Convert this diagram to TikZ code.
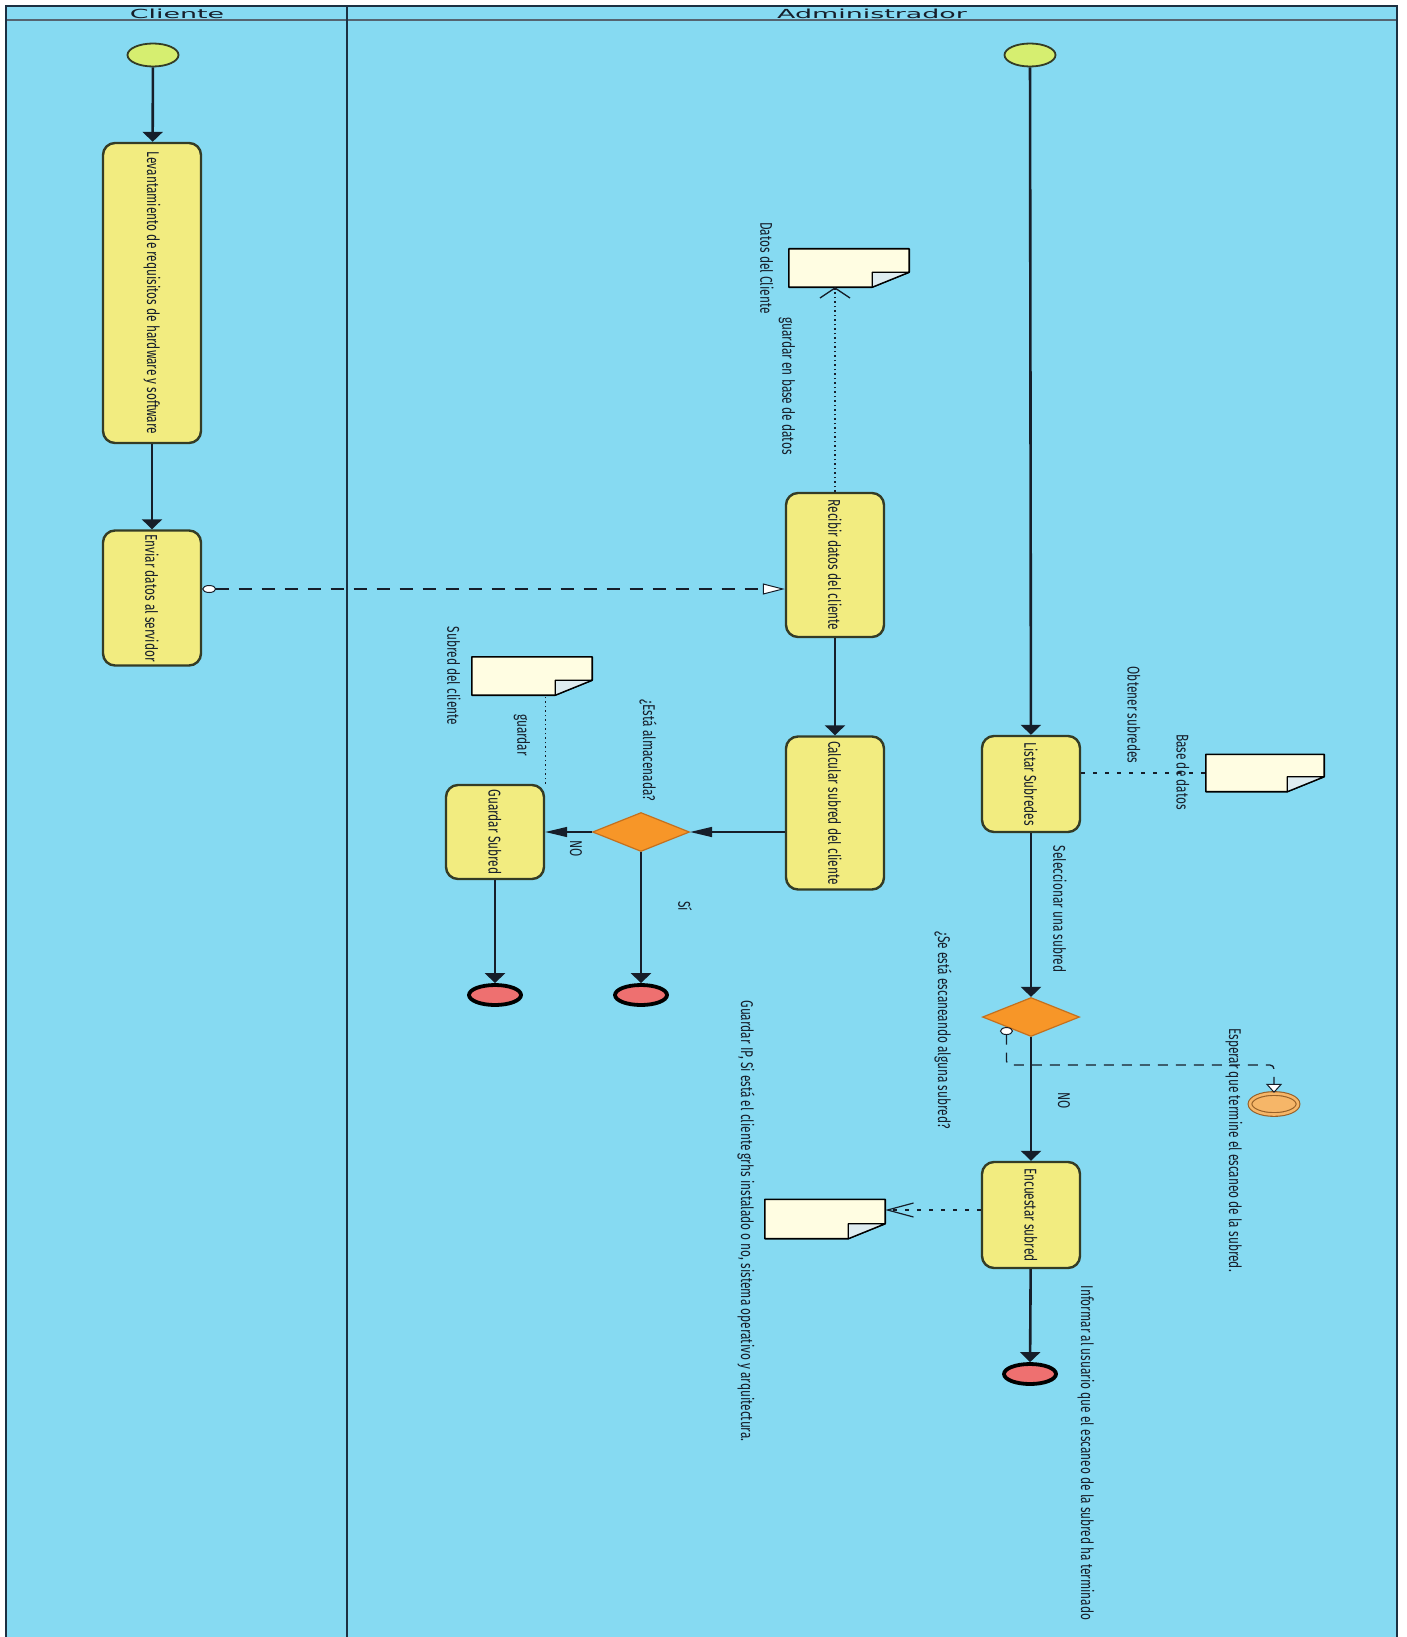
\documentclass[tikz,border=0pt]{standalone}
\usepackage{fontspec}
\setmainfont{Fira Sans}
\newfontfamily\lanefont[FakeStretch=2.15]{DejaVu Sans}
\newfontfamily\lblfont[FakeStretch=0.7]{Fira Sans}
\usepackage{tikz}
\usetikzlibrary{arrows.meta, shapes.geometric, calc, positioning}

\definecolor{lanefill}{RGB}{134,218,242}
\definecolor{laneline}{RGB}{28,48,66}
\definecolor{taskfill}{RGB}{242,236,128}
\definecolor{taskline}{RGB}{52,60,38}
\definecolor{startfill}{RGB}{214,238,112}
\definecolor{gatefill}{RGB}{247,150,40}
\definecolor{gateline}{RGB}{196,112,30}
\definecolor{endfill}{RGB}{238,112,112}
\definecolor{waitfill}{RGB}{246,182,104}
\definecolor{waitline}{RGB}{150,96,40}
\definecolor{docfill}{RGB}{255,253,226}
\definecolor{foldfill}{RGB}{222,236,240}
\definecolor{inkcol}{RGB}{22,30,42}

% vertical text, read top to bottom
\newcommand{\vtext}[1]{\rotatebox{-90}{#1}}

% data object with folded corner at the lower right
\newcommand{\docsheet}[1]{%
  \filldraw[fill=docfill, draw=black, line width=1.6pt, line join=round]
    (#1.north west) -- (#1.north east) -- ($(#1.south east)+(0,-15)$)
    -- ($(#1.south east)+(-37,0)$) -- (#1.south west) -- cycle;
  \filldraw[fill=foldfill, draw=black, line width=1.3pt, line join=round]
    ($(#1.south east)+(-37,0)$) -- ($(#1.south east)+(-37,-15)$)
    -- ($(#1.south east)+(0,-15)$) -- cycle;
}

\tikzset{
  lbl/.style={font=\lblfont\fontsize{17}{19}\selectfont, text=inkcol, inner sep=0pt},
  task/.style={lbl, draw=taskline, fill=taskfill, line width=2.4pt, rounded corners=12pt,
    minimum width=98pt},
  startev/.style={ellipse, draw=taskline, fill=startfill, line width=1.8pt,
    minimum width=51pt, minimum height=23pt, inner sep=0pt},
  endev/.style={ellipse, draw=black, fill=endfill, line width=3.8pt,
    minimum width=52pt, minimum height=20pt, inner sep=0pt},
  waitev/.style={ellipse, draw=waitline, line width=1.1pt, double=waitfill,
    double distance=2.6pt, fill=waitfill, minimum width=48pt, minimum height=21pt, inner sep=0pt},
  gate/.style={diamond, draw=gateline, fill=gatefill, line width=1.2pt,
    minimum width=97pt, minimum height=39pt, inner sep=0pt},
  doc/.style={minimum width=120pt, minimum height=38pt, inner sep=0pt},
  flow/.style={draw=inkcol, line width=2.6pt, -{Triangle[length=10pt, width=20pt]}},
  hflow/.style={draw=inkcol, line width=1.4pt, -{Triangle[length=22pt, width=10pt]}},
  msg/.style={draw=inkcol, line width=1.2pt, dash pattern=on 13pt off 10pt,
    {Circle[fill=white, length=14pt, width=8pt, line width=1pt]}-{Triangle[fill=white, length=22pt, width=11pt, line width=1pt]}},
  waitmsg/.style={draw=inkcol, line width=1.3pt, dash pattern=on 10pt off 8pt, rounded corners=4pt,
    {Circle[fill=white, length=8pt, width=13pt, line width=1pt]}-{Triangle[fill=white, length=9pt, width=16pt, line width=1pt]}},
  assoc/.style={draw=inkcol, line width=1.3pt, dash pattern=on 1.5pt off 3pt},
  hassoc/.style={draw=inkcol, line width=1.1pt, dash pattern=on 4pt off 8pt},
}

\begin{document}
\begin{tikzpicture}[x=1pt, y=-1pt]
  \useasboundingbox (0,0) rectangle (1406,1637);
  \fill[white] (0,0) rectangle (1406,1637);

  % pool with two lanes
  \fill[lanefill] (6,6) rectangle (1397,1640);
  \draw[laneline!75, line width=1.6pt] (6,20) -- (1397,20);
  \draw[laneline, line width=2.6pt] (6,1640) -- (6,6) -- (1397,6) -- (1397,1640);
  \draw[laneline, line width=2pt] (347,6) -- (347,1640);
  \node[font=\lanefont\fontsize{12.5}{13}\selectfont, text=inkcol, inner sep=0pt] (hdrC) at (177,13.5) {Cliente};
  \node[font=\lanefont\fontsize{12.5}{13}\selectfont, text=inkcol, inner sep=0pt] (hdrA) at (872,13.5) {Administrador};

  % Cliente
  \node[startev] (startC) at (153,55) {};
  \node[task, minimum height=300pt] (levant) at (152,293) {\vtext{Levantamiento de requisitos de hardware y software}};
  \node[task, minimum height=135pt] (enviar) at (152,598) {\vtext{Enviar datos al servidor}};

  % Administrador, datos del cliente
  \node[startev] (startA) at (1030,55) {};
  \node[task, minimum height=144pt] (recibir) at (835,565) {\vtext{Recibir datos del cliente}};
  \node[doc] (datosDoc) at (849,268) {};
  \node[task, minimum height=153pt] (calcular) at (835,813) {\vtext{Calcular subred del cliente}};
  \node[gate] (alm) at (641,832) {};
  \node[task, minimum height=94pt] (guardar) at (495,832) {\vtext{Guardar Subred}};
  \node[doc] (subredDoc) at (532,676) {};
  \node[endev] (endAlm) at (641,995) {};
  \node[endev] (endGuardar) at (495,995) {};

  % Administrador, escaneo
  \node[task, minimum height=96pt] (listar) at (1031,784) {\vtext{Listar Subredes}};
  \node[doc, minimum width=118pt, minimum height=37pt] (baseDoc) at (1265,773) {};
  \node[gate] (scan) at (1031,1017) {};
  \node[waitev] (waitEnd) at (1274,1104) {};
  \node[task, minimum height=106pt] (encuestar) at (1031,1215) {\vtext{Encuestar subred}};
  \node[doc, minimum height=39pt] (ipDoc) at (825,1219) {};
  \node[endev] (endScan) at (1030,1374) {};

  \docsheet{datosDoc}
  \docsheet{subredDoc}
  \docsheet{baseDoc}
  \docsheet{ipDoc}

  % sequence flows
  \draw[flow] (startC) -- (levant);
  \draw[flow] (levant) -- (enviar);
  \draw[flow] (startA) -- (listar);
  \draw[flow] (recibir) -- (calcular);
  \draw[hflow] (alm -| calcular.west) -- (alm.east);
  \draw[hflow] (alm.west) -- (guardar.east);
  \draw[flow] (alm.south) -- (endAlm);
  \draw[flow] (guardar) -- (endGuardar);
  \draw[flow] (listar) -- (scan);
  \draw[flow] (scan) -- (encuestar);
  \draw[flow] (encuestar) -- (endScan);

  % message and waiting flows
  \coordinate (msgY) at (0,589);
  \draw[msg] (enviar.east |- msgY) -- (recibir.west |- msgY);
  \coordinate (bend) at (0,1065);
  \draw[waitmsg] (scan.south west) |- (bend -| waitEnd) -- (waitEnd);

  % associations with data objects
  \draw[assoc, -{Straight Barb[length=10pt, width=30pt, line width=1.3pt]}]
    (recibir.north) -- (recibir.north |- datosDoc.south);
  \draw[assoc] (guardar.north east) -- (guardar.north east |- subredDoc.south);
  \draw[hassoc] (baseDoc.west -| listar.east) -- (baseDoc.west);
  \coordinate (ipY) at (0,1210);
  \draw[hassoc, -{Straight Barb[length=26pt, width=14pt, line width=1.2pt]}]
    (encuestar.west |- ipY) -- (ipDoc.east |- ipY);

  % labels
  \node[lbl] (lblDatos) at (767,268) {\vtext{Datos del Cliente}};
  \node[lbl] (lblGuardarBD) at (787,386) {\vtext{guardar en base de datos}};
  \node[lbl] (lblAlm) at (648,750) {\vtext{¿Está almacenada?}};
  \node[lbl] (lblNo1) at (576,849) {\vtext{NO}};
  \node[lbl] (lblSi) at (685,906) {\vtext{Sí}};
  \node[lbl] (lblGuardar) at (522,735) {\vtext{guardar}};
  \node[lbl] (lblSubred) at (454,676) {\vtext{Subred del cliente}};
  \node[lbl] (lblObtener) at (1134,715) {\vtext{Obtener subredes}};
  \node[lbl] (lblBase) at (1183,772) {\vtext{Base de datos}};
  \node[lbl] (lblSelec) at (1060,909) {\vtext{Seleccionar una subred}};
  \node[lbl] (lblScan) at (943,1030) {\vtext{¿Se está escaneando alguna subred?}};
  \node[lbl] (lblNo2) at (1064,1101) {\vtext{NO}};
  \node[lbl] (lblEsperar) at (1234,1150) {\vtext{Esperar que termine el escaneo de la subred.}};
  \node[lbl] (lblIP) at (746,1221) {\vtext{Guardar IP, Si está el cliente grhs instalado o no, sistema operativo y arquitectura.}};
  \node[lbl] (lblInformar) at (1086,1453) {\vtext{Informar al usuario que el escaneo de la subred ha terminado}};
\end{tikzpicture}
\end{document}
